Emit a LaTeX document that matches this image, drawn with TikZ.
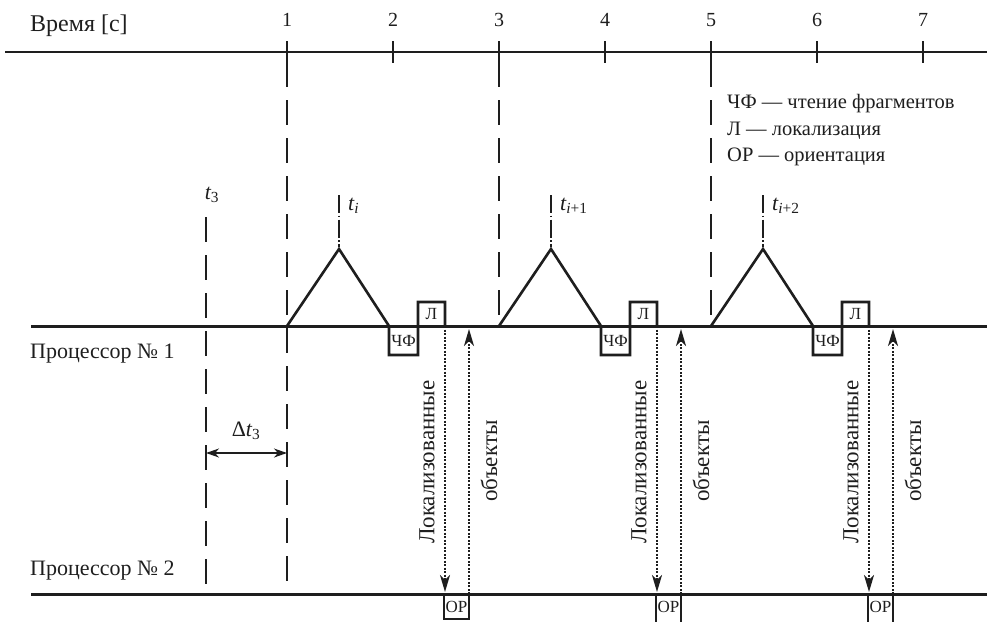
\documentclass[tikz,border=0pt]{standalone}
\usepackage{fontspec}
\setmainfont{Liberation Serif}
\usetikzlibrary{arrows.meta, positioning, calc}
\definecolor{cink}{HTML}{1E1E1E}
\tikzset{
  timeaxis/.style={draw=cink, line width=1.3pt},
  proc/.style={draw=cink, line width=3pt},
  phase/.style={draw=cink, line width=2pt, dash pattern=on 25pt off 13pt},
  tmark/.style={draw=cink, line width=1.8pt, dash pattern=on 18pt off 2.5pt on 1.5pt off 2.5pt},
  signal/.style={draw=cink, line width=2.6pt},
  xfer/.style={draw=cink, line width=1.9pt, dash pattern=on 2pt off 1.5pt, -{Stealth[length=17pt, width=10pt, inset=5pt]}},
  span/.style={draw=cink, line width=1.3pt, {Stealth[length=13pt, width=9pt, inset=4pt]}-{Stealth[length=13pt, width=9pt, inset=4pt]}},
  lbl/.style={font=\fontsize{22}{25}\selectfont, text=cink, inner sep=0pt},
  num/.style={font=\fontsize{20}{23}\selectfont, text=cink, inner sep=0pt},
  legend/.style={font=\fontsize{20.5}{24}\selectfont, text=cink, inner sep=0pt, anchor=base west},
  vert/.style={font=\fontsize{23}{26}\selectfont, text=cink, inner sep=0pt, rotate=90},
  tag/.style={font=\fontsize{17}{19}\selectfont, text=cink, inner sep=0pt},
}
% one read / locate / orient cycle, #1 shift, #2 name, #3 subscript, #4 bottom of the OP box
\newcommand{\proccycle}[4]{
  \begin{scope}[xshift=#1pt]
    \draw[tmark] (339,195) -- (339,247);
    \node[lbl, anchor=west] (t#2) at (348,206) {\itshape t\textsubscript{#3}};
    \draw[signal] (287,326) -- (339,249) -- (389,326) -- (389,355) -- (418,355) -- (418,302) -- (445,302) -- (445,326);
    \node[tag] (chf#2) at (403.5,341) {ЧФ};
    \node[tag] (loc#2) at (431.5,314) {Л};
    \draw[signal] (444,594) -- (444,#4) -- (469,#4) -- (469,594);
    \node[tag] (or#2) at (456.5,607) {ОР};
    \coordinate (sendA#2) at (445,326);
    \coordinate (sendB#2) at (445,592);
    \coordinate (backA#2) at (469,594);
    \coordinate (backB#2) at (469,329);
    \draw[xfer] (sendA#2) -- (sendB#2);
    \draw[xfer] (backA#2) -- (backB#2);
    \node[vert] (found#2) at (427,462) {Локализованные};
    \node[vert] (obj#2) at (489,461) {объекты};
  \end{scope}
}

\begin{document}
\begin{tikzpicture}[x=1pt, y=-1pt]
  \useasboundingbox (0,0) rectangle (987,621);
  % time axis
  \draw[timeaxis] (5,52) -- (987,52);
  \node[lbl, anchor=base west, font=\fontsize{24}{27}\selectfont] (time) at (30,31) {Время [с]};
  \foreach \n in {1,...,7} {
    \draw[timeaxis] ({287+106*(\n-1)},41) -- ({287+106*(\n-1)},63);
    \node[num, anchor=base] (tick\n) at ({287+106*(\n-1)},27) {\n};
  }
  % processors
  \draw[proc] (31,326) -- (987,326);
  \draw[proc] (31,594) -- (987,594);
  \node[lbl, anchor=west] (p1) at (30,354) {Процессор № 1};
  \node[lbl, anchor=west] (p2) at (30,571) {Процессор № 2};
  % phase lines
  \draw[phase] (287,62) -- (287,585);
  \draw[phase] (499,62) -- (499,324);
  \draw[phase] (711,62) -- (711,324);
  \draw[phase] (206,217) -- (206,590);
  \node[lbl] (t3) at (212,195) {\itshape t\textsubscript{\upshape 3}};
  \coordinate (dA) at (206,453);
  \coordinate (dB) at (287,453);
  \draw[span] (dA) -- (dB);
  \node[lbl] (dt3) at (246,431) {Δ\itshape t\textsubscript{\upshape 3}};
  % cycles
  \proccycle{0}{a}{i}{619}
  \proccycle{212}{b}{i\upshape +1}{626}
  \proccycle{424}{c}{i\upshape +2}{626}
  % legend
  \node[legend] (leg1) at (727,108) {ЧФ — чтение фрагментов};
  \node[legend] (leg2) at (727,135) {Л — локализация};
  \node[legend] (leg3) at (727,161) {ОР — ориентация};
\end{tikzpicture}
\end{document}
